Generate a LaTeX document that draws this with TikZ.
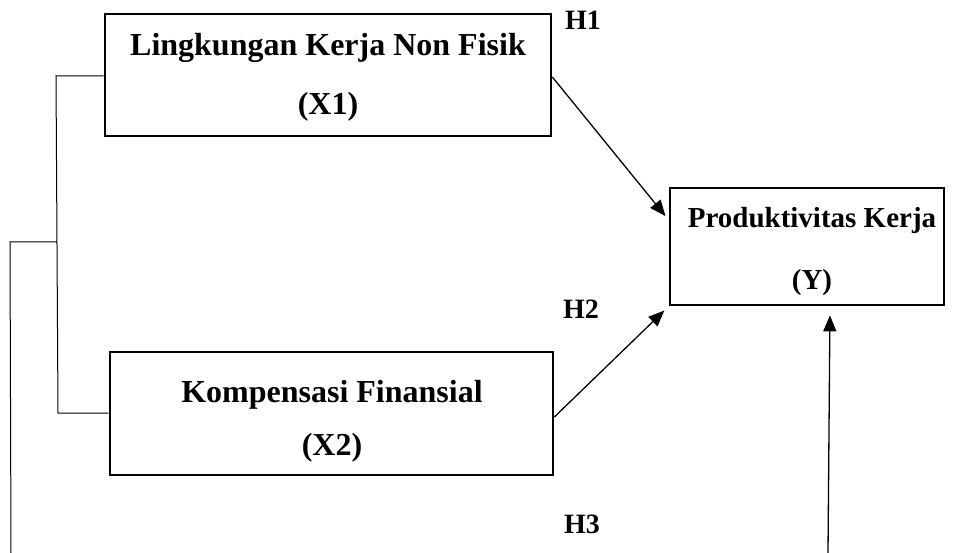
\documentclass[tikz,border=0pt]{standalone}
\usepackage{fontspec}
\setmainfont{Liberation Serif}
\usetikzlibrary{arrows.meta}
\begin{document}
\begin{tikzpicture}[x=1pt,y=-1pt,
  box/.style={draw,line width=2.7pt,inner sep=0pt,minimum width=#1},
  lbl/.style={anchor=base,inner sep=0pt,font=\bfseries\fontsize{32}{38}\selectfont},
  lbly/.style={anchor=base,inner sep=0pt,font=\bfseries\fontsize{29}{34}\selectfont},
  hlbl/.style={anchor=base west,inner sep=0pt,font=\bfseries\fontsize{28}{32}\selectfont},
  thin/.style={line width=1pt},
  arr/.style={line width=1.3pt,-{Triangle[length=16pt,width=13pt]}}]
\useasboundingbox (0,0) rectangle (977,553);
% boxes
\node[box=446pt,minimum height=122pt] (x1) at (328,75) {};
\node[box=443pt,minimum height=123pt] (x2) at (331.5,413.5) {};
\node[box=274pt,minimum height=117pt] (y) at (807,246.5) {};
% texts
\node[lbl] (x1a) at (328,56) {Lingkungan Kerja Non Fisik};
\node[lbl] (x1b) at (328,115) {(X1)};
\node[lbl] (x2a) at (332,402) {Kompensasi Finansial};
\node[lbl] (x2b) at (332,455) {(X2)};
\node[lbly] (ya) at (812,228) {Produktivitas Kerja};
\node[lbly] (yb) at (812,290) {(Y)};
\node[hlbl] (h1) at (565,30) {H1};
\node[hlbl] (h2) at (563,318) {H2};
\node[hlbl] (h3) at (564,533) {H3};
% bracket
\coordinate (t) at (56,76);
\coordinate (m) at (57,242);
\coordinate (bt) at (58,413);
\coordinate (l) at (10,242);
\coordinate (lb) at (11,553);
\coordinate (h3s) at (828,553);
\draw[thin] (x1.west |- t) -- (t) -- (bt) -- (x2.west |- bt);
\draw[thin] (m) -- (l) -- (lb);
% arrows
\draw[arr,shorten >=5pt] (x1.east |- 0,77) -- (y.west |- 0,220);
\draw[arr,shorten >=6pt] (x2.east |- 0,417) -- (y.south west);
\draw[arr,shorten >=9pt] (h3s) -- (y.south -| 830,0);
\end{tikzpicture}
\end{document}
